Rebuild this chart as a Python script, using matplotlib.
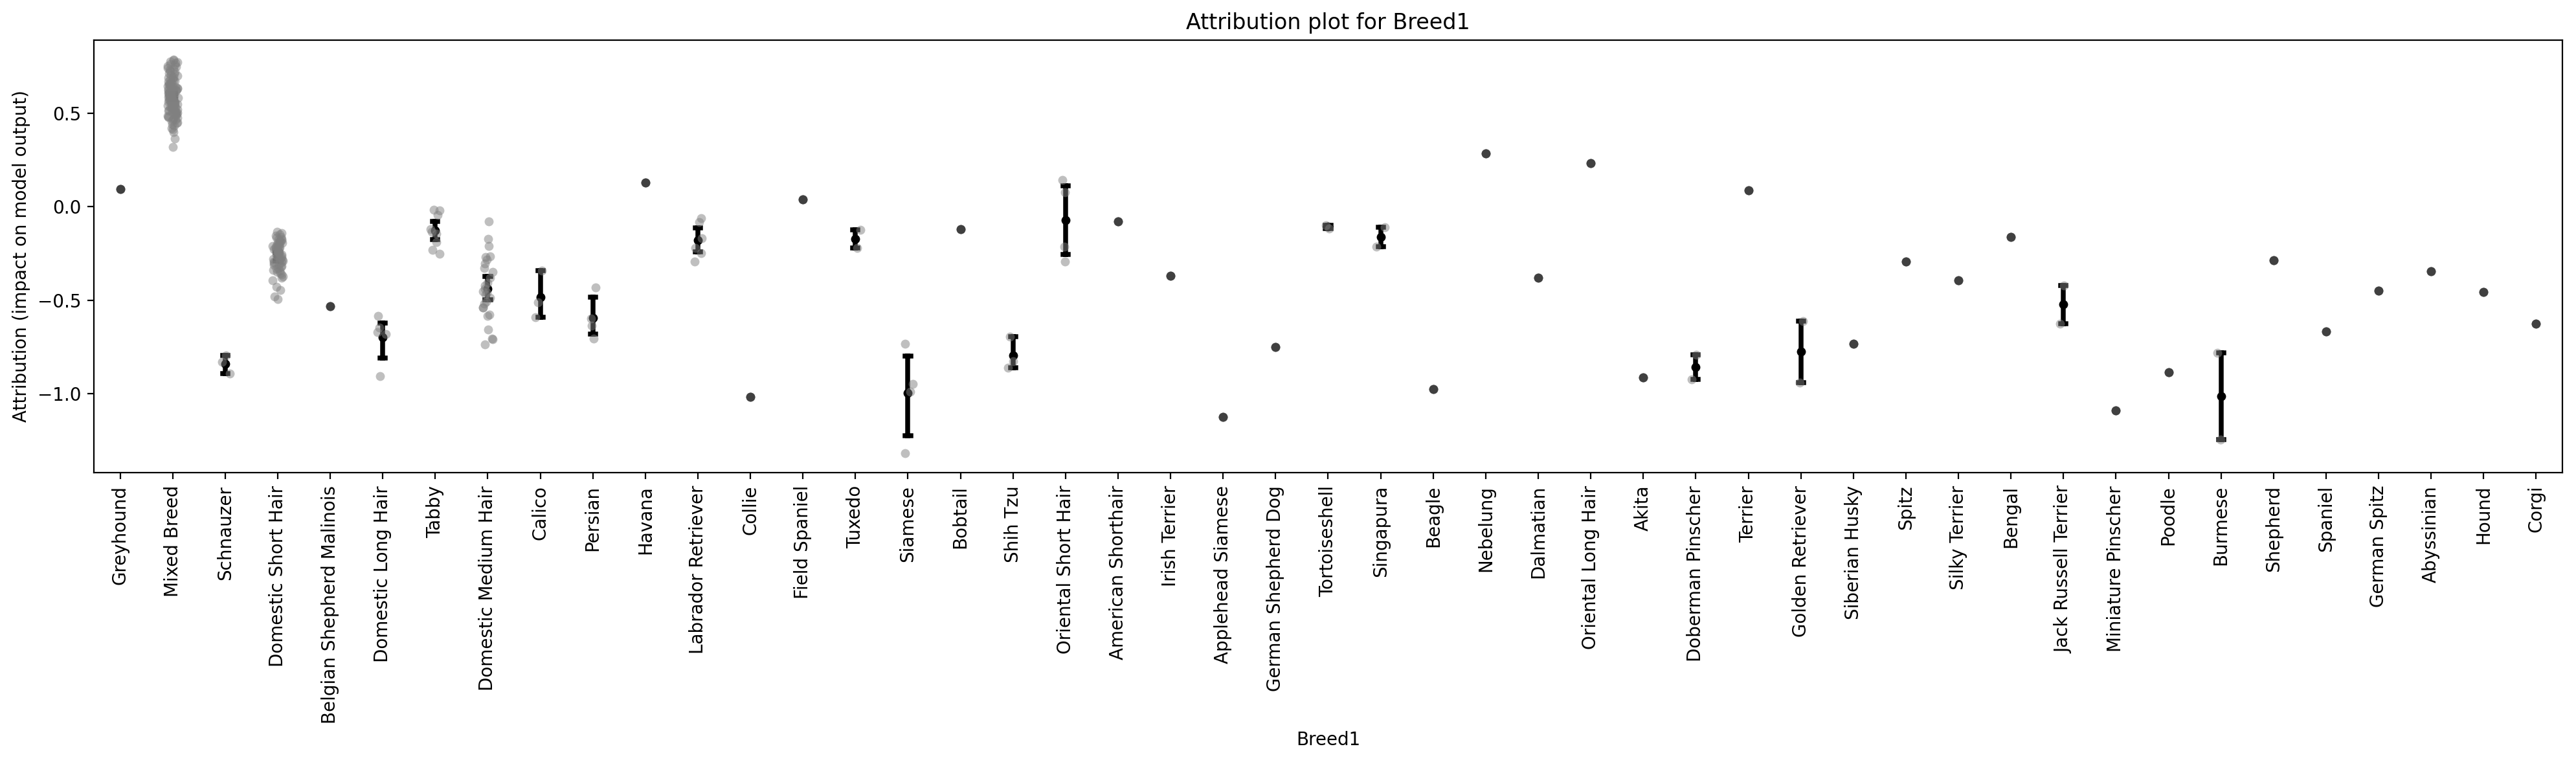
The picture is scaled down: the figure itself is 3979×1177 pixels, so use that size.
import numpy as np
import pandas as pd
import matplotlib
matplotlib.use("Agg")
import matplotlib.pyplot as plt
import seaborn as sns

# category order as it appears on the x axis
breeds = ['Greyhound', 'Mixed Breed', 'Schnauzer', 'Domestic Short Hair',
          'Belgian Shepherd Malinois', 'Domestic Long Hair', 'Tabby',
          'Domestic Medium Hair', 'Calico', 'Persian', 'Havana',
          'Labrador Retriever', 'Collie', 'Field Spaniel', 'Tuxedo', 'Siamese',
          'Bobtail', 'Shih Tzu', 'Oriental Short Hair', 'American Shorthair',
          'Irish Terrier', 'Applehead Siamese', 'German Shepherd Dog',
          'Tortoiseshell', 'Singapura', 'Beagle', 'Nebelung', 'Dalmatian',
          'Oriental Long Hair', 'Akita', 'Doberman Pinscher', 'Terrier',
          'Golden Retriever', 'Siberian Husky', 'Spitz', 'Silky Terrier',
          'Bengal', 'Jack Russell Terrier', 'Miniature Pinscher', 'Poodle',
          'Burmese', 'Shepherd', 'Spaniel', 'German Spitz', 'Abyssinian',
          'Hound', 'Corgi']

# breeds with a single observation
single_breeds = ['Greyhound', 'Belgian Shepherd Malinois', 'Havana', 'Collie',
                 'Field Spaniel', 'Bobtail', 'American Shorthair', 'Irish Terrier',
                 'Applehead Siamese', 'German Shepherd Dog', 'Beagle', 'Nebelung',
                 'Dalmatian', 'Oriental Long Hair', 'Akita', 'Terrier',
                 'Siberian Husky', 'Spitz', 'Silky Terrier', 'Bengal',
                 'Miniature Pinscher', 'Poodle', 'Shepherd', 'Spaniel',
                 'German Spitz', 'Abyssinian', 'Hound', 'Corgi']
single_values = [0.094, -0.533, 0.130, -1.015, 0.040, -0.119, -0.078, -0.368,
                 -1.122, -0.751, -0.975, 0.285, -0.380, 0.234, -0.911, 0.086,
                 -0.733, -0.294, -0.393, -0.162, -1.089, -0.884, -0.287, -0.665,
                 -0.450, -0.345, -0.455, -0.625]

mixed_breed = [0.318, 0.366, 0.398, 0.412, 0.421, 0.433, 0.441, 0.447, 0.452, 0.458,
               0.463, 0.466, 0.471, 0.474, 0.478, 0.482, 0.486, 0.489, 0.493, 0.496,
               0.501, 0.503, 0.507, 0.509, 0.512, 0.515, 0.518, 0.521, 0.523, 0.526,
               0.529, 0.531, 0.534, 0.536, 0.539, 0.541, 0.544, 0.546, 0.549, 0.551,
               0.553, 0.556, 0.558, 0.561, 0.563, 0.565, 0.568, 0.571, 0.573, 0.575,
               0.578, 0.581, 0.583, 0.585, 0.588, 0.591, 0.593, 0.596, 0.598, 0.601,
               0.603, 0.606, 0.608, 0.611, 0.613, 0.616, 0.619, 0.621, 0.624, 0.627,
               0.629, 0.632, 0.635, 0.638, 0.641, 0.644, 0.647, 0.651, 0.654, 0.657,
               0.661, 0.664, 0.668, 0.672, 0.676, 0.681, 0.685, 0.689, 0.694, 0.699,
               0.704, 0.709, 0.714, 0.719, 0.725, 0.731, 0.737, 0.742, 0.748, 0.753,
               0.758, 0.763, 0.768, 0.772, 0.777, 0.782, 0.786]
domestic_short_hair = [-0.135, -0.142, -0.149, -0.156, -0.161, -0.166, -0.171, -0.174,
                       -0.179, -0.183, -0.186, -0.191, -0.194, -0.198, -0.202, -0.205,
                       -0.209, -0.212, -0.216, -0.219, -0.223, -0.226, -0.229, -0.233,
                       -0.236, -0.239, -0.243, -0.246, -0.249, -0.253, -0.256, -0.259,
                       -0.263, -0.267, -0.271, -0.274, -0.278, -0.282, -0.286, -0.289,
                       -0.293, -0.297, -0.301, -0.306, -0.311, -0.316, -0.321, -0.326,
                       -0.331, -0.337, -0.343, -0.349, -0.356, -0.363, -0.371, -0.381,
                       -0.392, -0.428, -0.445, -0.479, -0.494]
domestic_medium_hair = [-0.077, -0.172, -0.210, -0.265, -0.269, -0.281, -0.304, -0.327,
                        -0.347, -0.38, -0.407, -0.42, -0.44, -0.451, -0.46, -0.468,
                        -0.485, -0.508, -0.517, -0.537, -0.537, -0.577, -0.583, -0.655,
                        -0.703, -0.709, -0.737]
schnauzer = [-0.795, -0.83, -0.892]
domestic_long_hair = [-0.583, -0.646, -0.669, -0.68, -0.907]
tabby = [-0.015, -0.02, -0.045, -0.12, -0.135, -0.145, -0.19, -0.23, -0.25]
calico = [-0.343, -0.512, -0.591]
persian = [-0.431, -0.599, -0.637, -0.706]
labrador_retriever = [-0.061, -0.081, -0.17, -0.219, -0.249, -0.294]
tuxedo = [-0.124, -0.219]
siamese = [-0.733, -0.946, -0.99, -1.317]
shih_tzu = [-0.695, -0.827, -0.86]
oriental_short_hair = [0.144, 0.078, -0.215, -0.294]
tortoiseshell = [-0.10, -0.115]
singapura = [-0.109, -0.215]
doberman_pinscher = [-0.792, -0.922]
golden_retriever = [-0.611, -0.939]
jack_russell_terrier = [-0.421, -0.625]
burmese = [-0.78, -1.243]

groups = {
    'Mixed Breed': mixed_breed,
    'Schnauzer': schnauzer,
    'Domestic Short Hair': domestic_short_hair,
    'Domestic Long Hair': domestic_long_hair,
    'Tabby': tabby,
    'Domestic Medium Hair': domestic_medium_hair,
    'Calico': calico,
    'Persian': persian,
    'Labrador Retriever': labrador_retriever,
    'Tuxedo': tuxedo,
    'Siamese': siamese,
    'Shih Tzu': shih_tzu,
    'Oriental Short Hair': oriental_short_hair,
    'Tortoiseshell': tortoiseshell,
    'Singapura': singapura,
    'Doberman Pinscher': doberman_pinscher,
    'Golden Retriever': golden_retriever,
    'Jack Russell Terrier': jack_russell_terrier,
    'Burmese': burmese,
}
for b, v in zip(single_breeds, single_values):
    groups[b] = [v]

rows = [(b, v) for b in breeds for v in groups[b]]
df = pd.DataFrame(rows, columns=['Breed1', 'attribution'])

np.random.seed(0)  # jitter of the strip points

fig = plt.figure(figsize=(19.9, 5.885), dpi=200)
ax = fig.add_axes([145 / 3980, 1 - 730.4 / 1177, (3958 - 145) / 3980, (730.4 - 61.7) / 1177])

sns.pointplot(data=df, x='Breed1', y='attribution', order=breeds, color='black',
              linestyle='none', errorbar=('ci', 95), seed=0, capsize=0.1,
              markersize=5, markeredgewidth=0, err_kws={'linewidth': 2.7}, ax=ax)
sns.stripplot(data=df, x='Breed1', y='attribution', order=breeds, color='gray',
              alpha=0.5, size=5, zorder=3, ax=ax)

ax.set_title('Attribution plot for Breed1')
ax.set_xlabel('Breed1')
ax.set_ylabel('Attribution (impact on model output)')
ax.tick_params(axis='x', rotation=90)

fig.savefig('out.png', dpi=200)
